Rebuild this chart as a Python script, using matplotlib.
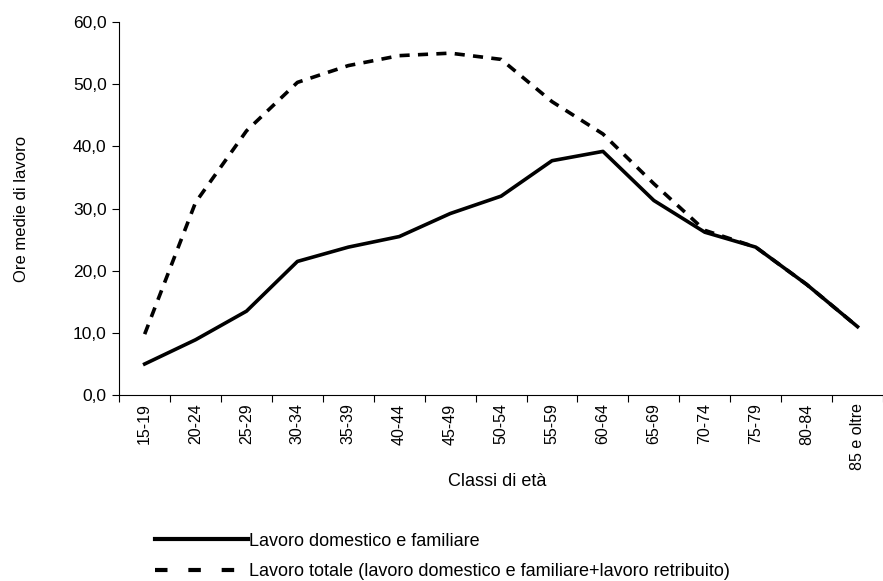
import matplotlib.pyplot as plt
import numpy as np
from matplotlib.lines import Line2D
from matplotlib.ticker import FuncFormatter

plt.rcParams['font.family'] = ['Liberation Sans', 'DejaVu Sans']

classi = ["15-19", "20-24", "25-29", "30-34", "35-39", "40-44", "45-49", "50-54",
          "55-59", "60-64", "65-69", "70-74", "75-79", "80-84", "85 e oltre"]
domestico = [5.0, 8.9, 13.5, 21.5, 23.8, 25.5, 29.2, 32.0, 37.7, 39.2, 31.3, 26.2, 23.8, 17.8, 11.0]
totale = [9.8, 31.0, 42.5, 50.3, 53.0, 54.6, 55.0, 54.0, 47.2, 42.0, 34.0, 26.5, 23.8, 17.8, 11.0]

lab_dom = "Lavoro domestico e familiare"
lab_tot = "Lavoro totale (lavoro domestico e familiare+lavoro retribuito)"

fig = plt.figure(figsize=(8.83, 5.81), dpi=100)
ax = fig.add_axes([0.135, 0.32, 0.865, 0.642])

x = np.arange(len(classi))
ax.plot(x, domestico, color='black', lw=2.6, zorder=3)
ax.plot(x, totale, color='black', lw=2.6, dashes=(2.8, 2.3), zorder=2)

ax.set_xlim(-0.5, len(classi) - 0.5)
ax.set_ylim(0, 60)
ax.set_yticks(np.arange(0, 61, 10))
ax.yaxis.set_major_formatter(FuncFormatter(lambda v, p: f"{v:.1f}".replace('.', ',')))

# tick marks on category boundaries, labels in the middle
ax.set_xticks(np.arange(-0.5, len(classi), 1.0))
ax.set_xticklabels([])
ax.set_xticks(x, minor=True)
ax.set_xticklabels(classi, minor=True, rotation=90, fontsize=11.5)
ax.tick_params(axis='x', which='minor', length=0, pad=6)
ax.tick_params(axis='x', which='major', length=5, width=0.8, direction='out')
ax.tick_params(axis='y', length=5, width=0.8, direction='out', labelsize=12.5, pad=4)

for s in ['top', 'right']:
    ax.spines[s].set_visible(False)
for s in ['left', 'bottom']:
    ax.spines[s].set_linewidth(0.8)

ax.set_ylabel("Ore medie di lavoro", fontsize=12)
ax.yaxis.set_label_coords(-0.118, 0.5)
fig.text(0.563, 0.172, "Classi di età", ha='center', va='center', fontsize=13)

handles = [Line2D([], [], color='black', lw=3),
           Line2D([], [], color='black', lw=3, dashes=(3, 5))]
fig.legend(handles, [lab_dom, lab_tot], loc='upper left', bbox_to_anchor=(0.175, 0.083),
           frameon=False, fontsize=13, handlelength=5.2, handletextpad=0.05, labelspacing=0.75,
           borderaxespad=0, borderpad=0)

fig.savefig("out.png", dpi=100)
